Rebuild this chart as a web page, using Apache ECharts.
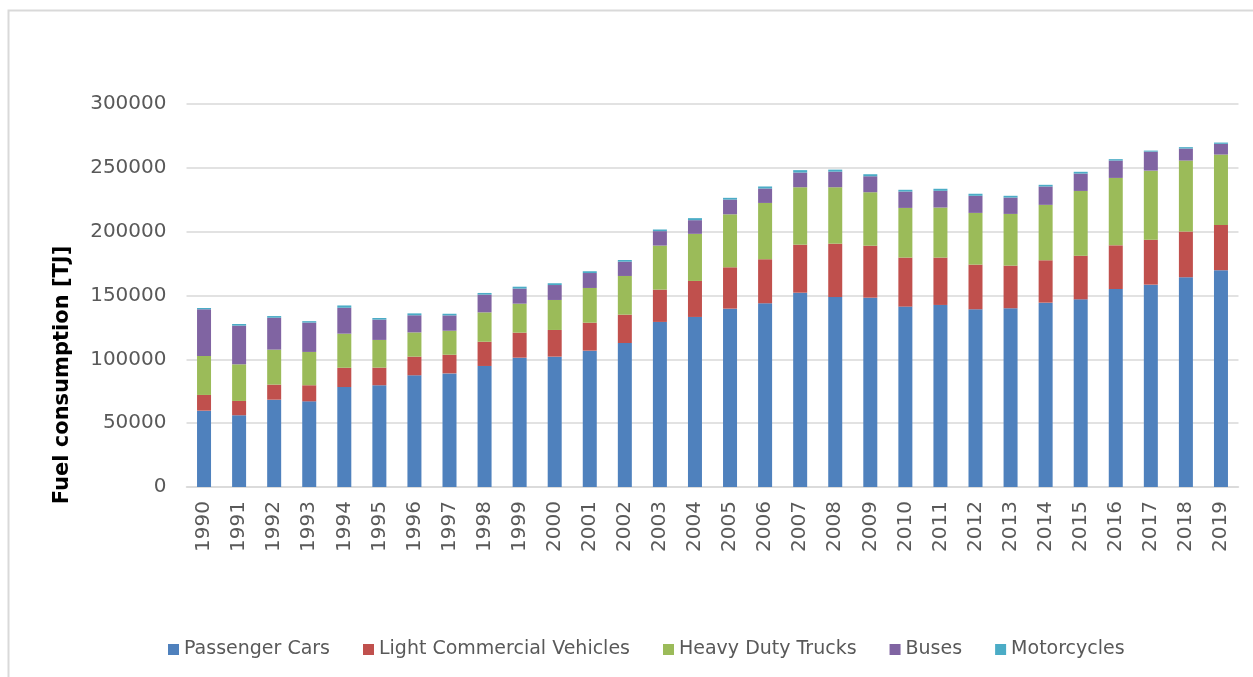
<!DOCTYPE html>
<html>
<head>
<meta charset="utf-8">
<script src="https://cdn.jsdelivr.net/npm/echarts@6/dist/echarts.min.js"></script>
<style>
html,body{margin:0;padding:0;background:#fff;}
#chart{width:1253px;height:677px;}
</style>
</head>
<body>
<div id="chart"></div>
<script>
const years = ['1990','1991','1992','1993','1994','1995','1996','1997','1998','1999','2000','2001','2002','2003','2004','2005','2006','2007','2008','2009','2010','2011','2012','2013','2014','2015','2016','2017','2018','2019'];
const passengerCars = [59800, 56200, 68400, 67100, 78300, 79700, 87500, 89000, 94800, 101300, 102100, 106800, 112800, 129300, 133200, 139700, 143900, 152200, 148800, 148300, 141300, 142600, 139200, 140000, 144400, 147000, 155100, 158500, 164300, 169800];
const lightCommercial = [12300, 11200, 11800, 12600, 15100, 13800, 14600, 14600, 19000, 19600, 20900, 21900, 22200, 25300, 28200, 32400, 34500, 37600, 41800, 40700, 38400, 37100, 35000, 33400, 33200, 34200, 34200, 35200, 35800, 35500];
const heavyDutyTrucks = [30500, 28700, 27400, 26100, 26700, 21700, 19000, 18800, 23000, 22700, 23500, 27200, 30300, 34500, 36900, 41500, 44100, 45000, 44200, 41900, 38900, 39200, 40500, 40500, 43400, 50700, 52800, 54100, 55600, 55100];
const buses = [36600, 30300, 25000, 23000, 20300, 15900, 13400, 12000, 13900, 11800, 11700, 11700, 11200, 11300, 10700, 11500, 11300, 11500, 12200, 12500, 12800, 13100, 13400, 12800, 14400, 13600, 13600, 14900, 9400, 8400];
const motorcycles = [1000, 1300, 1300, 1100, 1800, 1300, 1500, 1300, 1300, 1500, 1400, 1400, 1300, 1300, 1600, 1400, 1600, 1900, 1600, 1600, 1400, 1600, 1600, 1400, 1300, 1400, 1100, 800, 1100, 1000];

const seriesNames = ['Passenger Cars','Light Commercial Vehicles','Heavy Duty Trucks','Buses','Motorcycles'];
const seriesData = [passengerCars, lightCommercial, heavyDutyTrucks, buses, motorcycles];
const colors = ['#4F81BD','#C0504D','#9BBB59','#8064A2','#4BACC6'];

const FONT = 'DejaVu Sans';
const chart = echarts.init(document.getElementById('chart'), null, {renderer:'canvas'});
chart.setOption({
  backgroundColor:'#ffffff',
  animation:false,
  color: colors,
  grid:{left:186.5, right:14.5, top:104, bottom:190, containLabel:false},
  legend:{
    left:163, top:635,
    itemWidth:11, itemHeight:11, itemGap:33,
    icon:'rect',
    textStyle:{fontFamily:FONT, fontSize:19, color:'#595959'},
    data: seriesNames
  },
  xAxis:{
    type:'category',
    data: years,
    axisLine:{show:true, lineStyle:{color:'#d9d9d9', width:1.5}},
    axisTick:{show:false},
    axisLabel:{rotate:90, margin:14, fontFamily:FONT, fontSize:20, color:'#595959', interval:0}
  },
  yAxis:{
    type:'value',
    min:0, max:300000, interval:50000,
    axisLine:{show:false},
    axisTick:{show:false},
    splitLine:{show:true, lineStyle:{color:'#d9d9d9', width:1.5}},
    axisLabel:{margin:20, fontFamily:FONT, fontSize:20, color:'#595959', formatter:function(v){return String(v);}}
  },
  graphic:[
    {type:'rect', silent:true, shape:{x:8.5, y:10.5, width:1300, height:700}, style:{fill:'none', stroke:'#d9d9d9', lineWidth:2}},
    {type:'text', x:63, y:375, rotation:Math.PI/2, style:{text:'Fuel consumption [TJ]', fontFamily:FONT, fontSize:21, fontWeight:'bold', fill:'#000000', textAlign:'center', textVerticalAlign:'middle'}}
  ],
  series: seriesNames.map((name,i)=>({
    name: name,
    type:'bar',
    stack:'total',
    barWidth:14,
    data: seriesData[i],
    itemStyle:{color: colors[i]}
  }))
});
</script>
</body>
</html>
